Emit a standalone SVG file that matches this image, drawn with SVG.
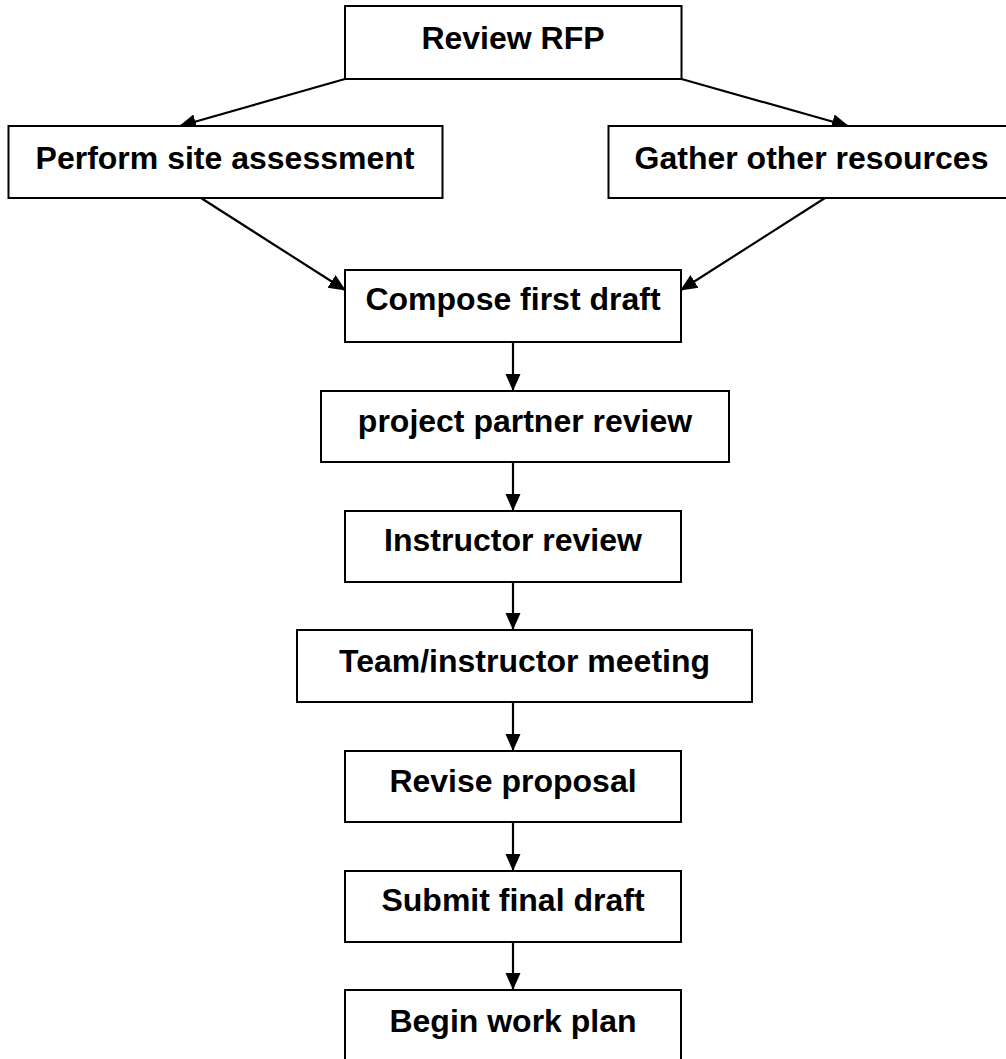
<svg xmlns="http://www.w3.org/2000/svg" width="1006" height="1059" viewBox="0 0 1006 1059">
<defs>
<style>
.box{fill:#fff;stroke:#000;stroke-width:2}
.lbl{font-family:"Liberation Sans",Arial,sans-serif;font-weight:bold;font-size:32px;fill:#000;text-anchor:middle}
.conn{stroke:#000;stroke-width:2.2;fill:none;marker-end:url(#ah)}
</style>
<marker id="ah" markerUnits="userSpaceOnUse" markerWidth="17" markerHeight="17" refX="16" refY="8.5" orient="auto">
<path d="M0,1 L17,8.5 L0,16 z" fill="#000"/>
</marker>
</defs>
<rect width="1006" height="1059" fill="#fff"/>
<g id="connectors">
<line class="conn" x1="345" y1="79" x2="180" y2="126"/>
<line class="conn" x1="681.5" y1="79" x2="848" y2="126"/>
<line class="conn" x1="201" y1="198" x2="345" y2="290"/>
<line class="conn" x1="825" y1="198" x2="681" y2="290"/>
<line class="conn" x1="513" y1="342" x2="513" y2="390"/>
<line class="conn" x1="513" y1="462" x2="513" y2="510"/>
<line class="conn" x1="513" y1="582" x2="513" y2="629"/>
<line class="conn" x1="513" y1="702" x2="513" y2="750"/>
<line class="conn" x1="513" y1="822" x2="513" y2="870"/>
<line class="conn" x1="513" y1="942" x2="513" y2="989"/>
</g>
<g id="review-rfp"><rect class="box" x="345" y="6" width="336.5" height="73"/><text class="lbl" x="513" y="48.5">Review RFP</text></g>
<g id="site-assessment"><rect class="box" x="8.5" y="126" width="434" height="72"/><text class="lbl" x="225" y="168.5">Perform site assessment</text></g>
<g id="other-resources"><rect class="box" x="608.5" y="126" width="406" height="72"/><text class="lbl" x="811.5" y="168.5">Gather other resources</text></g>
<g id="first-draft"><rect class="box" x="345" y="270" width="336" height="72"/><text class="lbl" x="513" y="310">Compose first draft</text></g>
<g id="partner-review"><rect class="box" x="321" y="391" width="408" height="71"/><text class="lbl" x="525" y="431.5">project partner review</text></g>
<g id="instructor-review"><rect class="box" x="345" y="511" width="336" height="71"/><text class="lbl" x="513" y="551">Instructor review</text></g>
<g id="team-meeting"><rect class="box" x="297" y="630" width="455" height="72"/><text class="lbl" x="524.5" y="671.5">Team/instructor meeting</text></g>
<g id="revise"><rect class="box" x="345" y="751" width="336" height="71"/><text class="lbl" x="513" y="791.5">Revise proposal</text></g>
<g id="submit"><rect class="box" x="345" y="871" width="336" height="71"/><text class="lbl" x="513" y="910.5">Submit final draft</text></g>
<g id="work-plan"><rect class="box" x="345" y="990" width="336" height="72"/><text class="lbl" x="513" y="1031.5">Begin work plan</text></g>
</svg>
